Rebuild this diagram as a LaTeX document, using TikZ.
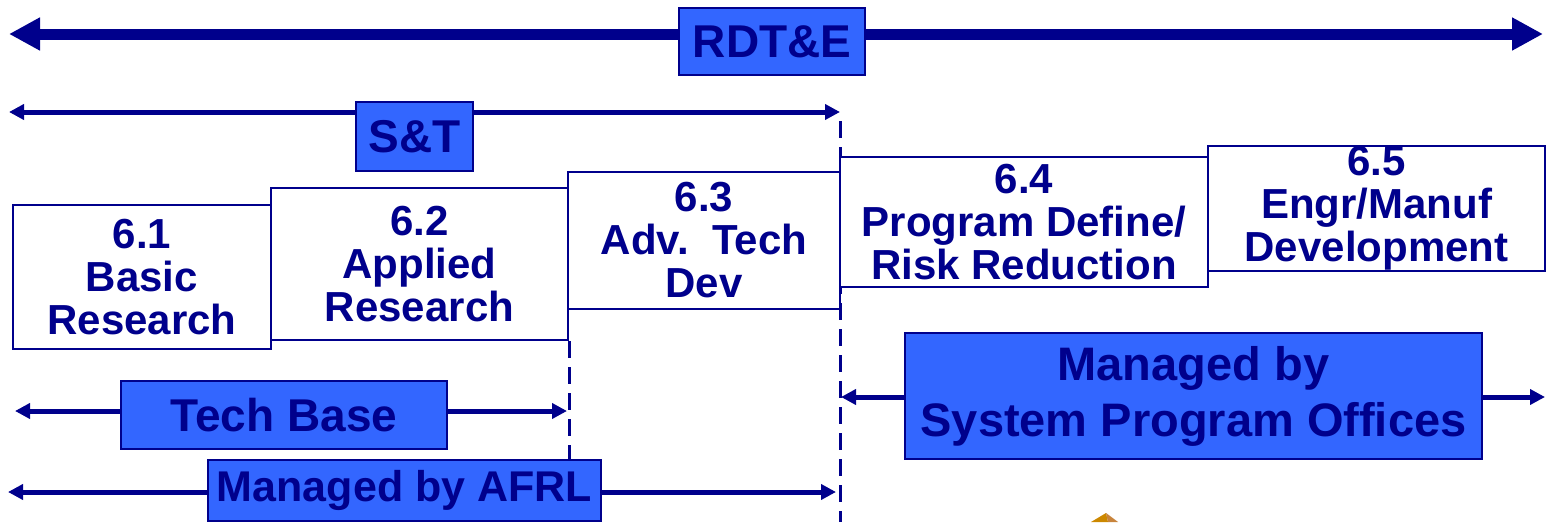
\documentclass[tikz,border=0pt]{standalone}
\usepackage{fontspec}
\setmainfont{Liberation Sans}
\usetikzlibrary{arrows.meta}
\definecolor{navy}{RGB}{0,0,140}
\definecolor{tagblue}{RGB}{51,102,255}
\definecolor{pyrdark}{RGB}{204,136,0}
\definecolor{pyrlight}{RGB}{200,132,60}

\begin{document}
\begin{tikzpicture}[x=1pt, y=-1pt,
  phase/.style={rectangle, draw=navy, fill=white, line width=2.5pt, inner sep=0pt,
                text=navy, font=\fontsize{42}{43}\selectfont\bfseries, align=center},
  tag/.style={rectangle, draw=navy, fill=tagblue, line width=2.5pt, inner sep=0pt,
              text=navy, font=\fontsize{46}{54}\selectfont\bfseries, align=center},
  bigarr/.style={{Triangle[length=31pt,width=31pt]}-{Triangle[length=31pt,width=31pt]},
                 line width=11pt, color=navy},
  arr/.style={{Triangle[length=15pt,width=15pt]}-{Triangle[length=15pt,width=15pt]},
              line width=5pt, color=navy},
  split/.style={navy, line width=3pt, dash pattern=on 17pt off 9pt}
]
  \useasboundingbox (0,0) rectangle (1546,522);

  % span ends
  \coordinate (rdtL) at (9,34);     \coordinate (rdtR) at (1543,34);
  \coordinate (stL)  at (9,112);    \coordinate (stR)  at (840,112);
  \coordinate (tbL)  at (15,411);   \coordinate (tbR)  at (567,411);
  \coordinate (afL)  at (8,492);    \coordinate (afR)  at (836,492);
  \coordinate (spL)  at (841,397);  \coordinate (spR)  at (1545,397);
  \coordinate (cutA) at (840,121);  \coordinate (cutB) at (840,522);

  \draw[split] (cutA) -- (cutB);
  \draw[bigarr] (rdtL) -- (rdtR);
  \foreach \a/\b in {stL/stR,tbL/tbR,afL/afR,spL/spR}
    \draw[arr] (\a) -- (\b);

  % budget activities
  \node[phase, minimum width=258pt, minimum height=144pt] (b61) at (142,277)
    {6.1\\Basic\\Research};
  \node[phase, minimum width=297pt, minimum height=152pt] (b62) at (419.5,264)
    {6.2\\Applied\\Research};
  \node[phase, minimum width=272pt, minimum height=137pt] (b63) at (704,240.5)
    {6.3\\Adv.\ \ Tech\\Dev};
  \node[phase, minimum width=368pt, minimum height=130pt] (b64) at (1024,222)
    {6.4\\Program Define/\\Risk Reduction};
  \node[phase, minimum width=337pt, minimum height=125pt] (b65) at (1376.5,208.5)
    {6.5\\Engr/Manuf\\Development};

  % labels on the spans
  \node[tag, minimum width=186pt, minimum height=67pt] (rdte) at (772,41.5) {RDT\&E};
  \node[tag, minimum width=117pt, minimum height=69pt] (st) at (414.5,136.5) {S\&T};
  \node[tag, minimum width=326pt, minimum height=68pt] (tech) at (284,415) {Tech Base};
  \node[tag, minimum width=393pt, minimum height=61pt, font=\fontsize{43}{48}\selectfont\bfseries]
    (afrl) at (404.5,490.5) {Managed by AFRL};
  \node[tag, minimum width=577pt, minimum height=126pt, font=\fontsize{47}{56}\selectfont\bfseries]
    (spo) at (1193.5,396) {Managed by\\System Program Offices};

  \draw[split] (b62.south east) -- (afrl.north -| b62.east);

  % pyramid corner
  \fill[pyrdark]  (1091,522) -- (1106,513) -- (1108,522) -- cycle;
  \fill[pyrlight] (1106,513) -- (1118,522) -- (1108,522) -- cycle;
\end{tikzpicture}
\end{document}
